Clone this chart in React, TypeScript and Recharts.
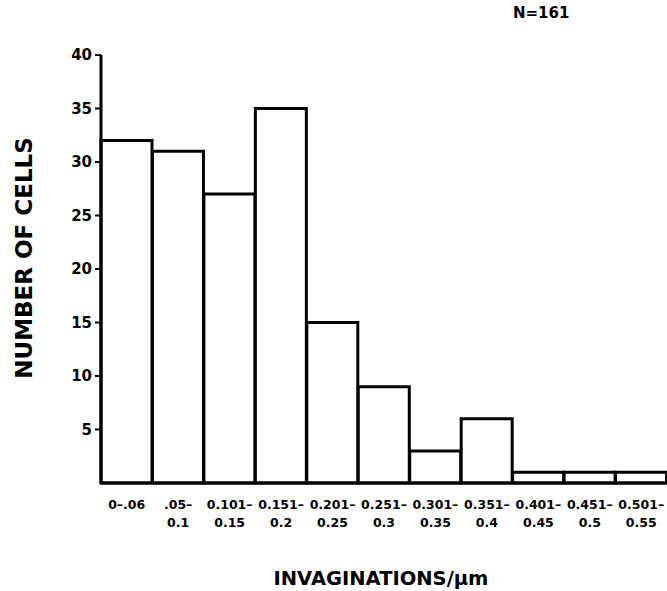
import React from "react";
import { BarChart, Bar, XAxis, YAxis } from "recharts";

const binsLine1 = ["0–.06", ".05–", "0.101–", "0.151–", "0.201–", "0.251–", "0.301–", "0.351–", "0.401–", "0.451–", "0.501–"];
const binsLine2 = ["", "0.1", "0.15", "0.2", "0.25", "0.3", "0.35", "0.4", "0.45", "0.5", "0.55"];
const cellCounts = [32, 31, 27, 35, 15, 9, 3, 6, 1, 1, 1];
const yTicks = [5, 10, 15, 20, 25, 30, 35, 40];

const data = cellCounts.map((v, i) => ({ bin: i, value: v }));

const FONT = "'DejaVu Sans', sans-serif";

const XTick = (props: any) => {
  const { x, y, payload } = props;
  const i = payload.value as number;
  return (
    <text x={x} y={y} textAnchor="middle" fontFamily={FONT} fontWeight="bold" fontSize={12.5} fill="#000">
      <tspan x={x} dy={26}>{binsLine1[i]}</tspan>
      {binsLine2[i] ? <tspan x={x} dy={18}>{binsLine2[i]}</tspan> : null}
    </text>
  );
};

export default function App() {
  return (
    <div style={{ position: "absolute", left: 0, top: 0, width: 667, height: 591, background: "#fff" }}>
      <BarChart
        width={667}
        height={591}
        data={data}
        margin={{ top: 55, right: 0, bottom: 0, left: 41 }}
        barCategoryGap={0}
        barGap={0}
      >
        <XAxis
          dataKey="bin"
          interval={0}
          tickLine={false}
          tickSize={0}
          tickMargin={0}
          axisLine={{ stroke: "#000", strokeWidth: 3 }}
          tick={<XTick />}
          height={108}
        />
        <YAxis
          width={60}
          domain={[0, 40]}
          ticks={yTicks}
          interval={0}
          tickSize={6}
          tickMargin={3}
          axisLine={{ stroke: "#000", strokeWidth: 3 }}
          tickLine={{ stroke: "#000", strokeWidth: 2 }}
          tick={{ fill: "#000", fontFamily: FONT, fontWeight: "bold", fontSize: 15 }}
        />
        <Bar dataKey="value" fill="#fff" stroke="#000" strokeWidth={3} isAnimationActive={false} />
      </BarChart>
      <svg width={667} height={591} style={{ position: "absolute", left: 0, top: 0, pointerEvents: "none" }}>
        <text x={513} y={18} fontFamily={FONT} fontWeight="bold" fontSize={15} fill="#000">N=161</text>
        <text transform="translate(32,258) rotate(-90)" textAnchor="middle" fontFamily={FONT} fontWeight="bold" fontSize={23} fill="#000">NUMBER OF CELLS</text>
        <text x={381} y={585} textAnchor="middle" fontFamily={FONT} fontWeight="bold" fontSize={19.5} fill="#000">INVAGINATIONS/µm</text>
      </svg>
    </div>
  );
}
